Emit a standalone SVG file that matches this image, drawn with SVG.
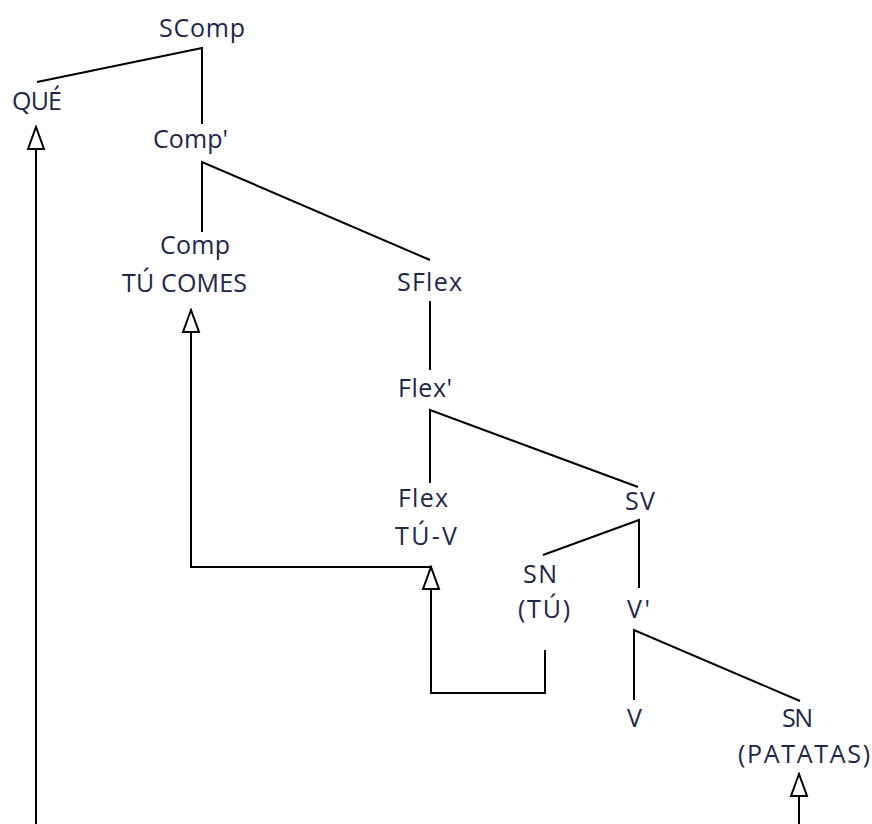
<svg xmlns="http://www.w3.org/2000/svg" width="872" height="824" viewBox="0 0 872 824">
<style>
.t{font-family:"Open Sans","Liberation Sans",sans-serif;font-size:25px;fill:#22264a;}
.l{stroke:#000;stroke-width:2;fill:none;}
.a{stroke:#000;stroke-width:2;fill:none;marker-end:url(#ah);}
</style>
<defs>
<marker id="ah" markerUnits="userSpaceOnUse" markerWidth="26" markerHeight="20" viewBox="0 0 26 20" refX="24" refY="10" orient="auto">
<path d="M2,2 L24,10 L2,18 Z" fill="#fff" stroke="#000" stroke-width="2"/>
</marker>
</defs>
<rect width="872" height="824" fill="#fff"/>
<g id="connectors">
<path class="l" d="M37,82 L202,48 L202,124"/>
<path class="l" d="M202,232 L202,162 L430,260"/>
<path class="l" d="M430,301 L430,370"/>
<path class="l" d="M430,483 L430,410 L638,487"/>
<path class="l" d="M543,555 L639,520 L639,588"/>
<path class="l" d="M634,700 L634,630 L800,701"/>
<path class="a" d="M36,824 L36,127"/>
<path class="a" d="M431,567 L191,567 L191,310"/>
<path class="a" d="M545,650 L545,693 L431,693 L431,567"/>
<path class="a" d="M799,824 L799,774"/>
</g>
<g id="n-scomp"><text class="t" x="159" y="37" textLength="86">SComp</text></g>
<g id="n-que"><text class="t" x="12" y="110" textLength="50">QUÉ</text></g>
<g id="n-compbar"><text class="t" x="153" y="148" textLength="75">Comp'</text></g>
<g id="n-comp"><text class="t" x="160" y="254" textLength="70">Comp</text><text class="t" x="122" y="292" textLength="125">TÚ COMES</text></g>
<g id="n-sflex"><text class="t" x="397" y="291" textLength="65">SFlex</text></g>
<g id="n-flexbar"><text class="t" x="398" y="397" textLength="54">Flex'</text></g>
<g id="n-flex"><text class="t" x="398" y="507" textLength="50">Flex</text><text class="t" x="395" y="545" textLength="62">TÚ-V</text></g>
<g id="n-sv"><text class="t" x="625" y="510" textLength="30">SV</text></g>
<g id="n-sn1"><text class="t" x="523" y="583" textLength="34">SN</text><text class="t" x="518" y="618" textLength="52">(TÚ)</text></g>
<g id="n-vbar"><text class="t" x="627" y="618" textLength="23">V'</text></g>
<g id="n-v"><text class="t" x="627" y="727" textLength="16">V</text></g>
<g id="n-sn2"><text class="t" x="782" y="727" textLength="31">SN</text><text class="t" x="738" y="763" textLength="132">(PATATAS)</text></g>
</svg>
